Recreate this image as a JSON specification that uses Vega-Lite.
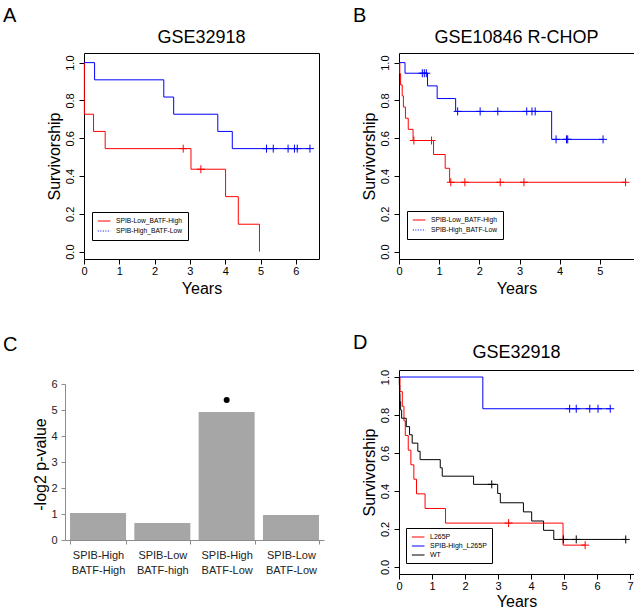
{
  "$schema": "https://vega.github.io/schema/vega-lite/v6.json",
  "background": "white",
  "padding": {"left": 2, "top": 5, "right": 0, "bottom": 0},
  "config": {
    "font": "Liberation Sans",
    "view": {"stroke": "black", "strokeWidth": 1},
    "axis": {"grid": false, "domain": false, "tickColor": "black", "labelColor": "black", "titleColor": "black", "labelFont": "Liberation Sans", "titleFont": "Liberation Sans", "titleFontWeight": "normal", "labelFlush": false, "labelOverlap": false, "tickCount": 30},
    "text": {"font": "Liberation Sans", "color": "black"},
    "title": {"font": "Liberation Sans", "fontWeight": "normal", "color": "black"},
    "legend": {"labelFont": "Liberation Sans"}
  },
  "datasets": {
    "kmA": [
      {"g": "SPIB-Low_BATF-High", "t": 0, "s": 1},
      {"g": "SPIB-Low_BATF-High", "t": 0.01, "s": 0.727},
      {"g": "SPIB-Low_BATF-High", "t": 0.27, "s": 0.636},
      {"g": "SPIB-Low_BATF-High", "t": 0.6, "s": 0.545},
      {"g": "SPIB-Low_BATF-High", "t": 3.03, "s": 0.436},
      {"g": "SPIB-Low_BATF-High", "t": 4.01, "s": 0.291},
      {"g": "SPIB-Low_BATF-High", "t": 4.37, "s": 0.145},
      {"g": "SPIB-Low_BATF-High", "t": 4.97, "s": 0},
      {"g": "SPIB-High_BATF-Low", "t": 0, "s": 1},
      {"g": "SPIB-High_BATF-Low", "t": 0.3, "s": 0.909},
      {"g": "SPIB-High_BATF-Low", "t": 2.26, "s": 0.818},
      {"g": "SPIB-High_BATF-Low", "t": 2.54, "s": 0.727},
      {"g": "SPIB-High_BATF-Low", "t": 3.79, "s": 0.636},
      {"g": "SPIB-High_BATF-Low", "t": 4.2, "s": 0.545},
      {"g": "SPIB-High_BATF-Low", "t": 6.4, "s": 0.545}
    ],
    "cenA": [
      {"g": "SPIB-Low_BATF-High", "t": 2.81, "s": 0.545},
      {"g": "SPIB-Low_BATF-High", "t": 3.31, "s": 0.436},
      {"g": "SPIB-High_BATF-Low", "t": 5.17, "s": 0.545},
      {"g": "SPIB-High_BATF-Low", "t": 5.36, "s": 0.545},
      {"g": "SPIB-High_BATF-Low", "t": 5.78, "s": 0.545},
      {"g": "SPIB-High_BATF-Low", "t": 5.96, "s": 0.545},
      {"g": "SPIB-High_BATF-Low", "t": 6.04, "s": 0.545},
      {"g": "SPIB-High_BATF-Low", "t": 6.4, "s": 0.545}
    ],
    "kmB": [
      {"g": "SPIB-Low_BATF-High", "t": 0, "s": 1},
      {"g": "SPIB-Low_BATF-High", "t": 0.02, "s": 0.941},
      {"g": "SPIB-Low_BATF-High", "t": 0.04, "s": 0.882},
      {"g": "SPIB-Low_BATF-High", "t": 0.08, "s": 0.824},
      {"g": "SPIB-Low_BATF-High", "t": 0.11, "s": 0.765},
      {"g": "SPIB-Low_BATF-High", "t": 0.16, "s": 0.706},
      {"g": "SPIB-Low_BATF-High", "t": 0.23, "s": 0.647},
      {"g": "SPIB-Low_BATF-High", "t": 0.35, "s": 0.588},
      {"g": "SPIB-Low_BATF-High", "t": 0.86, "s": 0.514},
      {"g": "SPIB-Low_BATF-High", "t": 1.15, "s": 0.441},
      {"g": "SPIB-Low_BATF-High", "t": 1.26, "s": 0.367},
      {"g": "SPIB-Low_BATF-High", "t": 5.64, "s": 0.367},
      {"g": "SPIB-High_BATF-Low", "t": 0, "s": 1},
      {"g": "SPIB-High_BATF-Low", "t": 0.15, "s": 0.944},
      {"g": "SPIB-High_BATF-Low", "t": 0.71, "s": 0.877},
      {"g": "SPIB-High_BATF-Low", "t": 0.95, "s": 0.81},
      {"g": "SPIB-High_BATF-Low", "t": 1.41, "s": 0.742},
      {"g": "SPIB-High_BATF-Low", "t": 3.8, "s": 0.594},
      {"g": "SPIB-High_BATF-Low", "t": 5.08, "s": 0.594}
    ],
    "cenB": [
      {"g": "SPIB-Low_BATF-High", "t": 0.37, "s": 0.588},
      {"g": "SPIB-Low_BATF-High", "t": 0.81, "s": 0.588},
      {"g": "SPIB-Low_BATF-High", "t": 1.29, "s": 0.367},
      {"g": "SPIB-Low_BATF-High", "t": 1.64, "s": 0.367},
      {"g": "SPIB-Low_BATF-High", "t": 2.52, "s": 0.367},
      {"g": "SPIB-Low_BATF-High", "t": 3.11, "s": 0.367},
      {"g": "SPIB-Low_BATF-High", "t": 5.64, "s": 0.367},
      {"g": "SPIB-High_BATF-Low", "t": 0.58, "s": 0.944},
      {"g": "SPIB-High_BATF-Low", "t": 0.63, "s": 0.944},
      {"g": "SPIB-High_BATF-Low", "t": 0.68, "s": 0.944},
      {"g": "SPIB-High_BATF-Low", "t": 1.46, "s": 0.742},
      {"g": "SPIB-High_BATF-Low", "t": 2.02, "s": 0.742},
      {"g": "SPIB-High_BATF-Low", "t": 2.46, "s": 0.742},
      {"g": "SPIB-High_BATF-Low", "t": 3.18, "s": 0.742},
      {"g": "SPIB-High_BATF-Low", "t": 3.31, "s": 0.742},
      {"g": "SPIB-High_BATF-Low", "t": 3.39, "s": 0.742},
      {"g": "SPIB-High_BATF-Low", "t": 3.91, "s": 0.594},
      {"g": "SPIB-High_BATF-Low", "t": 4.17, "s": 0.594},
      {"g": "SPIB-High_BATF-Low", "t": 4.2, "s": 0.594},
      {"g": "SPIB-High_BATF-Low", "t": 5.08, "s": 0.594}
    ],
    "kmD": [
      {"g": "L265P", "t": 0, "s": 1},
      {"g": "L265P", "t": 0.03, "s": 0.923},
      {"g": "L265P", "t": 0.1, "s": 0.846},
      {"g": "L265P", "t": 0.15, "s": 0.769},
      {"g": "L265P", "t": 0.19, "s": 0.692},
      {"g": "L265P", "t": 0.28, "s": 0.615},
      {"g": "L265P", "t": 0.36, "s": 0.538},
      {"g": "L265P", "t": 0.45, "s": 0.462},
      {"g": "L265P", "t": 0.53, "s": 0.385},
      {"g": "L265P", "t": 0.79, "s": 0.308},
      {"g": "L265P", "t": 1.41, "s": 0.231},
      {"g": "L265P", "t": 4.97, "s": 0.115},
      {"g": "L265P", "t": 5.64, "s": 0.115},
      {"g": "SPIB-High_L265P", "t": 0, "s": 1},
      {"g": "SPIB-High_L265P", "t": 2.54, "s": 0.833},
      {"g": "SPIB-High_L265P", "t": 6.4, "s": 0.833},
      {"g": "WT", "t": 0, "s": 1},
      {"g": "WT", "t": 0.01, "s": 0.957},
      {"g": "WT", "t": 0.02, "s": 0.913},
      {"g": "WT", "t": 0.03, "s": 0.87},
      {"g": "WT", "t": 0.05, "s": 0.826},
      {"g": "WT", "t": 0.08, "s": 0.783},
      {"g": "WT", "t": 0.22, "s": 0.739},
      {"g": "WT", "t": 0.32, "s": 0.696},
      {"g": "WT", "t": 0.4, "s": 0.652},
      {"g": "WT", "t": 0.57, "s": 0.609},
      {"g": "WT", "t": 0.64, "s": 0.565},
      {"g": "WT", "t": 1.25, "s": 0.522},
      {"g": "WT", "t": 1.31, "s": 0.478},
      {"g": "WT", "t": 2.26, "s": 0.435},
      {"g": "WT", "t": 2.99, "s": 0.387},
      {"g": "WT", "t": 3.07, "s": 0.338},
      {"g": "WT", "t": 3.77, "s": 0.29},
      {"g": "WT", "t": 4.02, "s": 0.242},
      {"g": "WT", "t": 4.38, "s": 0.193},
      {"g": "WT", "t": 4.69, "s": 0.145},
      {"g": "WT", "t": 6.87, "s": 0.145}
    ],
    "cenD": [
      {"g": "L265P", "t": 3.32, "s": 0.231},
      {"g": "L265P", "t": 5.64, "s": 0.115},
      {"g": "SPIB-High_L265P", "t": 5.17, "s": 0.833},
      {"g": "SPIB-High_L265P", "t": 5.37, "s": 0.833},
      {"g": "SPIB-High_L265P", "t": 5.78, "s": 0.833},
      {"g": "SPIB-High_L265P", "t": 6.03, "s": 0.833},
      {"g": "SPIB-High_L265P", "t": 6.4, "s": 0.833},
      {"g": "WT", "t": 2.81, "s": 0.435},
      {"g": "WT", "t": 4.98, "s": 0.145},
      {"g": "WT", "t": 5.37, "s": 0.145},
      {"g": "WT", "t": 6.87, "s": 0.145}
    ],
    "barsC": [
      {"cat": "SPIB-High\nBATF-High", "value": 1.04},
      {"cat": "SPIB-Low\nBATF-high", "value": 0.65},
      {"cat": "SPIB-High\nBATF-Low", "value": 4.92, "marker": 5.38},
      {"cat": "SPIB-Low\nBATF-Low", "value": 0.96}
    ]
  },
  "bounds": "flush",
  "columns": 2,
  "spacing": {"row": 111, "column": 61},
  "center": {"row": false, "column": true},
  "resolve": {"scale": {"color": "independent"}, "legend": {"color": "independent"}},
  "concat": [
    {
      "width": 235, "height": 206,
      "layer": [
        {
          "data": {"name": "kmA"},
          "mark": {"type": "line", "interpolate": "step-after", "strokeWidth": 1},
          "encoding": {
            "x": {"field": "t", "type": "quantitative", "scale": {"domain": [0, 6.656], "nice": false, "zero": false},
              "axis": {"title": "Years", "values": [0, 1, 2, 3, 4, 5, 6], "tickCount": 30, "format": "d", "labelOverlap": false, "tickSize": 5, "labelPadding": 1, "labelFontSize": 11, "titleFontSize": 16, "titleX": 117.5, "titleY": 34.5, "titleBaseline": "alphabetic", "titleAlign": "center"}},
            "y": {"field": "s", "type": "quantitative", "scale": {"domain": [-0.039, 1.051], "nice": false, "zero": false},
              "axis": {"title": "Survivorship", "values": [0, 0.2, 0.4, 0.6, 0.8, 1], "tickCount": 30, "format": ".1f", "labelOverlap": false, "tickSize": 5, "labelAngle": -90, "labelAlign": "center", "labelBaseline": "alphabetic", "labelPadding": 6, "labelFontSize": 11, "titleFontSize": 16, "titleAngle": -90, "titleX": -25, "titleY": 103, "titleBaseline": "alphabetic", "titleAlign": "center"}},
            "color": {"field": "g", "type": "nominal", "scale": {"domain": ["SPIB-Low_BATF-High", "SPIB-High_BATF-Low"], "range": ["#ff0000", "#0000ff"]},
              "legend": {"orient": "none", "legendX": 8, "legendY": 159, "title": null, "symbolType": "M-1,0H3", "symbolSize": 40, "symbolStrokeWidth": 1, "labelFontSize": 6.7, "labelOffset": 11, "labelColor": "black", "padding": 5, "rowPadding": 2, "strokeColor": "black", "fillColor": "white", "cornerRadius": 0,
                "encode": {"symbols": {"update": {"strokeDash": {"signal": "datum.label == 'SPIB-High_BATF-Low' ? [1, 1.5] : [20, 0]"}}}}}}
          }
        },
        {
          "data": {"name": "cenA"},
          "mark": {"type": "point", "shape": "M0,-1V1M-1,0H1", "filled": false, "size": 64, "strokeWidth": 1, "opacity": 1},
          "encoding": {"x": {"field": "t", "type": "quantitative"}, "y": {"field": "s", "type": "quantitative"}, "color": {"field": "g", "type": "nominal"}}
        },
        {
          "data": {"values": [{"lab": "A"}]},
          "mark": {"type": "text", "align": "left", "baseline": "alphabetic", "fontSize": 20},
          "encoding": {"x": {"datum": -2.294, "type": "quantitative"}, "y": {"datum": 1.217, "type": "quantitative"}, "text": {"field": "lab"}}
        },
        {
          "data": {"values": [{"lab": "GSE32918"}]},
          "mark": {"type": "text", "align": "center", "baseline": "alphabetic", "fontSize": 18},
          "encoding": {"x": {"datum": 3.328, "type": "quantitative"}, "y": {"datum": 1.1055, "type": "quantitative"}, "text": {"field": "lab"}}
        }
      ]
    },
    {
      "width": 235, "height": 206,
      "layer": [
        {
          "data": {"name": "kmB"},
          "mark": {"type": "line", "interpolate": "step-after", "strokeWidth": 1},
          "encoding": {
            "x": {"field": "t", "type": "quantitative", "scale": {"domain": [0, 5.85], "nice": false, "zero": false},
              "axis": {"title": "Years", "values": [0, 1, 2, 3, 4, 5], "tickCount": 30, "format": "d", "labelOverlap": false, "tickSize": 5, "labelPadding": 1, "labelFontSize": 11, "titleFontSize": 16, "titleX": 117.5, "titleY": 34.5, "titleBaseline": "alphabetic", "titleAlign": "center"}},
            "y": {"field": "s", "type": "quantitative", "scale": {"domain": [-0.039, 1.051], "nice": false, "zero": false},
              "axis": {"title": "Survivorship", "values": [0, 0.2, 0.4, 0.6, 0.8, 1], "tickCount": 30, "format": ".1f", "labelOverlap": false, "tickSize": 5, "labelAngle": -90, "labelAlign": "center", "labelBaseline": "alphabetic", "labelPadding": 6, "labelFontSize": 11, "titleFontSize": 16, "titleAngle": -90, "titleX": -25, "titleY": 103, "titleBaseline": "alphabetic", "titleAlign": "center"}},
            "color": {"field": "g", "type": "nominal", "scale": {"domain": ["SPIB-Low_BATF-High", "SPIB-High_BATF-Low"], "range": ["#ff0000", "#0000ff"]},
              "legend": {"orient": "none", "legendX": 8, "legendY": 158, "title": null, "symbolType": "M-1,0H3", "symbolSize": 40, "symbolStrokeWidth": 1, "labelFontSize": 6.7, "labelOffset": 11, "labelColor": "black", "padding": 5, "rowPadding": 2, "strokeColor": "black", "fillColor": "white", "cornerRadius": 0,
                "encode": {"symbols": {"update": {"strokeDash": {"signal": "datum.label == 'SPIB-High_BATF-Low' ? [1, 1.5] : [20, 0]"}}}}}}
          }
        },
        {
          "data": {"name": "cenB"},
          "mark": {"type": "point", "shape": "M0,-1V1M-1,0H1", "filled": false, "size": 64, "strokeWidth": 1, "opacity": 1},
          "encoding": {"x": {"field": "t", "type": "quantitative"}, "y": {"field": "s", "type": "quantitative"}, "color": {"field": "g", "type": "nominal"}}
        },
        {
          "data": {"values": [{"lab": "B"}]},
          "mark": {"type": "text", "align": "left", "baseline": "alphabetic", "fontSize": 20},
          "encoding": {"x": {"datum": -1.145, "type": "quantitative"}, "y": {"datum": 1.217, "type": "quantitative"}, "text": {"field": "lab"}}
        },
        {
          "data": {"values": [{"lab": "GSE10846 R-CHOP"}]},
          "mark": {"type": "text", "align": "center", "baseline": "alphabetic", "fontSize": 18},
          "encoding": {"x": {"datum": 2.925, "type": "quantitative"}, "y": {"datum": 1.1055, "type": "quantitative"}, "text": {"field": "lab"}}
        }
      ]
    },
    {
      "width": 273, "height": 170,
      "view": {"stroke": null},
      "title": {"text": "C", "anchor": "start", "frame": "group", "dx": -62, "offset": 15, "fontSize": 20, "fontWeight": "normal"},
      "data": {"name": "barsC"},
      "layer": [
        {
          "mark": {"type": "bar", "color": "#a6a6a6"},
          "encoding": {
            "x": {"field": "cat", "type": "nominal", "sort": null, "scale": {"range": [0, 259], "paddingInner": 0.129, "paddingOuter": 0.078},
              "axis": {"title": null, "labelAngle": 0, "labelExpr": "split(datum.label, '\\n')", "labelOverlap": false, "labelFontSize": 11, "labelLineHeight": 15, "labelPadding": 5, "labelColor": "#222222", "domain": true, "domainColor": "#8c8c8c", "tickColor": "#8c8c8c", "tickSize": 4, "tickBand": "extent"}},
            "y": {"field": "value", "type": "quantitative", "scale": {"domain": [0, 6], "range": [170, 14], "nice": false, "zero": false},
              "axis": {"title": "-log2 p-value", "values": [0, 1, 2, 3, 4, 5, 6], "tickCount": 30, "format": "d", "labelOverlap": false, "labelFontSize": 11, "labelColor": "#222222", "labelPadding": 4, "tickSize": 4, "domain": true, "domainColor": "#8c8c8c", "tickColor": "#8c8c8c", "titleFontSize": 16, "titleAngle": -90, "titleX": -20, "titleY": 94, "titleBaseline": "alphabetic", "titleAlign": "center"}}
          }
        },
        {
          "transform": [{"filter": "isValid(datum.marker)"}],
          "mark": {"type": "point", "filled": true, "color": "black", "size": 36, "opacity": 1},
          "encoding": {"x": {"field": "cat", "type": "nominal", "sort": null}, "y": {"field": "marker", "type": "quantitative"}}
        }
      ]
    },
    {
      "width": 235, "height": 204,
      "layer": [
        {
          "data": {"name": "kmD"},
          "mark": {"type": "line", "interpolate": "step-after", "strokeWidth": 1},
          "encoding": {
            "x": {"field": "t", "type": "quantitative", "scale": {"domain": [0, 7.12], "nice": false, "zero": false},
              "axis": {"title": "Years", "values": [0, 1, 2, 3, 4, 5, 6, 7], "tickCount": 30, "format": "d", "labelOverlap": false, "tickSize": 5, "labelPadding": 1, "labelFontSize": 11, "titleFontSize": 16, "titleX": 117.5, "titleY": 32.5, "titleBaseline": "alphabetic", "titleAlign": "center"}},
            "y": {"field": "s", "type": "quantitative", "scale": {"domain": [-0.037, 1.037], "nice": false, "zero": false},
              "axis": {"title": "Survivorship", "values": [0, 0.2, 0.4, 0.6, 0.8, 1], "tickCount": 30, "format": ".1f", "labelOverlap": false, "tickSize": 5, "labelAngle": -90, "labelAlign": "center", "labelBaseline": "alphabetic", "labelPadding": 6, "labelFontSize": 11, "titleFontSize": 16, "titleAngle": -90, "titleX": -25, "titleY": 102, "titleBaseline": "alphabetic", "titleAlign": "center"}},
            "color": {"field": "g", "type": "nominal", "scale": {"domain": ["L265P", "SPIB-High_L265P", "WT"], "range": ["#ff0000", "#0000ff", "#000000"]},
              "legend": {"orient": "none", "legendX": 7, "legendY": 158, "title": null, "symbolType": "M-1,0H3", "symbolSize": 40, "symbolStrokeWidth": 1, "labelFontSize": 7, "labelOffset": 11, "labelColor": "black", "padding": 5, "rowPadding": 2, "strokeColor": "black", "fillColor": "white", "cornerRadius": 0}}
          }
        },
        {
          "data": {"name": "cenD"},
          "mark": {"type": "point", "shape": "M0,-1V1M-1,0H1", "filled": false, "size": 64, "strokeWidth": 1, "opacity": 1},
          "encoding": {"x": {"field": "t", "type": "quantitative"}, "y": {"field": "s", "type": "quantitative"}, "color": {"field": "g", "type": "nominal"}}
        },
        {
          "data": {"values": [{"lab": "D"}]},
          "mark": {"type": "text", "align": "left", "baseline": "alphabetic", "fontSize": 20},
          "encoding": {"x": {"datum": -1.394, "type": "quantitative"}, "y": {"datum": 1.148, "type": "quantitative"}, "text": {"field": "lab"}}
        },
        {
          "data": {"values": [{"lab": "GSE32918"}]},
          "mark": {"type": "text", "align": "center", "baseline": "alphabetic", "fontSize": 18},
          "encoding": {"x": {"datum": 3.56, "type": "quantitative"}, "y": {"datum": 1.1, "type": "quantitative"}, "text": {"field": "lab"}}
        }
      ]
    }
  ]
}
